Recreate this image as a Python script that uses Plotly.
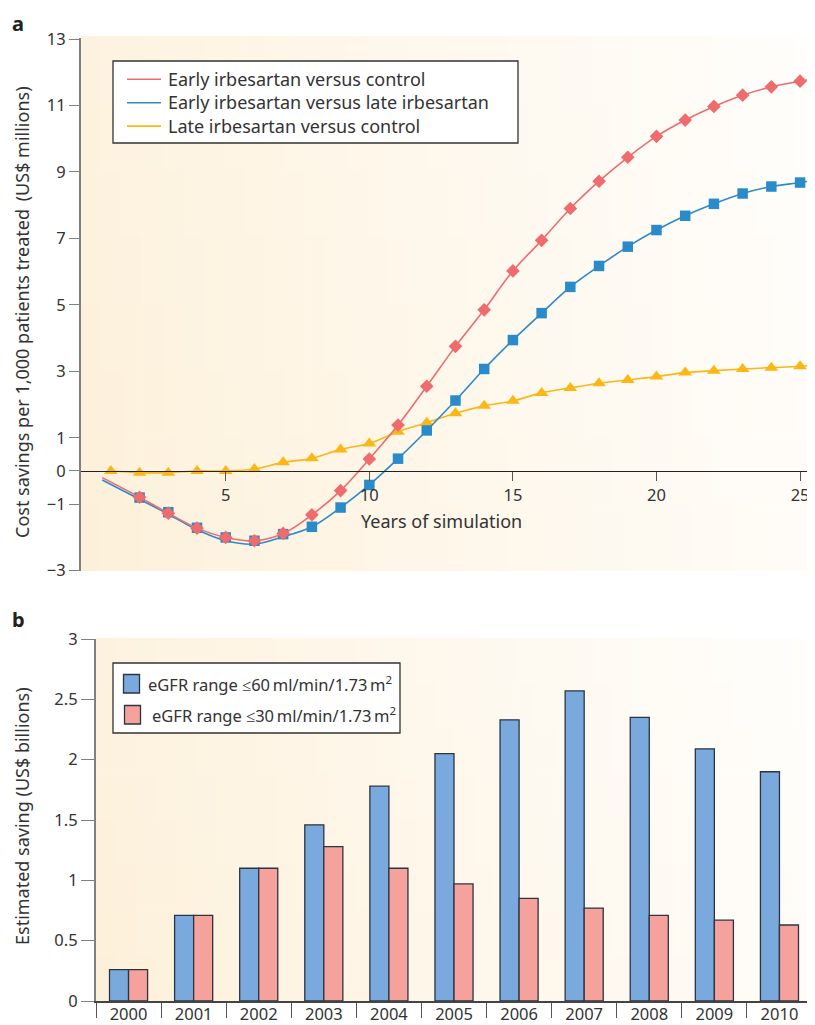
import plotly.graph_objects as go

# page body has an 8 px margin: figure is placed at (8, 8) in the 815x1025 window
OX, OY = 8, 8
FW, FH = 807, 1017
FONT = "Noto Sans"
TXT = "#333333"

# ---------------- Panel a data ----------------
marker_years_a = list(range(2, 26))
marker_years_c = list(range(1, 26))
early_vs_control = [-0.79, -1.27, -1.72, -2.0, -2.1, -1.88, -1.32, -0.59, 0.36, 1.38,
                    2.55, 3.75, 4.85, 6.02, 6.94, 7.9, 8.72, 9.44, 10.07, 10.56,
                    10.97, 11.31, 11.56, 11.73]
early_vs_late = [-0.8, -1.24, -1.71, -2.0, -2.1, -1.9, -1.68, -1.1, -0.42, 0.37,
                 1.22, 2.12, 3.07, 3.94, 4.75, 5.54, 6.17, 6.75, 7.25, 7.68,
                 8.04, 8.35, 8.56, 8.68]
late_vs_control = [0.0, -0.05, -0.05, 0.0, 0.0, 0.06, 0.26, 0.38, 0.65, 0.83,
                   1.18, 1.45, 1.74, 1.96, 2.11, 2.35, 2.5, 2.64, 2.74, 2.84,
                   2.96, 3.02, 3.07, 3.11, 3.15]

# smooth curves drawn behind the markers
curve_red_x = [0.7] + marker_years_a + [25.5]
curve_red_y = [-0.2] + early_vs_control + [11.8]
curve_blue_x = [0.7] + marker_years_a + [25.5]
curve_blue_y = [-0.27, -0.85, -1.3, -1.77, -2.1, -2.2, -1.98, -1.68, -1.1, -0.42, 0.37,
                1.22, 2.12, 3.07, 3.94, 4.75, 5.54, 6.17, 6.75, 7.25, 7.68,
                8.04, 8.35, 8.56, 8.68, 8.75]
curve_yel_x = marker_years_c + [25.5]
curve_yel_y = late_vs_control + [3.19]

series_names_a = ["Early irbesartan versus control",
                  "Early irbesartan versus late irbesartan",
                  "Late irbesartan versus control"]
ytick_vals_a = [13, 11, 9, 7, 5, 3, 1, 0, -1, -3]
ytick_text_a = ["13", "11", "9", "7", "5", "3", "1", "0", "\u22121", "\u22123"]
xtick_vals_a = [5, 10, 15, 20, 25]

# ---------------- Panel b data ----------------
years_b = ["2000", "2001", "2002", "2003", "2004", "2005", "2006", "2007", "2008", "2009", "2010"]
egfr60 = [0.26, 0.71, 1.1, 1.46, 1.78, 2.05, 2.33, 2.57, 2.35, 2.09, 1.9]
egfr30 = [0.26, 0.71, 1.1, 1.28, 1.1, 0.97, 0.85, 0.77, 0.71, 0.67, 0.63]
series_names_b = ["eGFR range \u226460\u2009ml/min/1.73\u2009m<sup>2</sup>",
                  "eGFR range \u226430\u2009ml/min/1.73\u2009m<sup>2</sup>"]
ytick_vals_b = [0, 0.5, 1, 1.5, 2, 2.5, 3]
ytick_text_b = ["0", "0.5", "1", "1.5", "2", "2.5", "3"]

RED = "#ee6b6e"
BLUE = "#2a8bcb"
YEL = "#fbb715"
BAR_BLUE = "#7aaadd"
BAR_RED = "#f5a29c"
EDGE = "#2d3440"


def px(x):
    return (x - OX) / FW


def py(y):
    return 1 - (y - OY) / FH


fig = go.Figure()

# panel a traces
fig.add_trace(go.Scatter(x=curve_yel_x, y=curve_yel_y, mode="lines", line=dict(color=YEL, width=1.6, shape="spline"),
                         xaxis="x", yaxis="y", showlegend=False, hoverinfo="skip"))
fig.add_trace(go.Scatter(x=marker_years_c, y=late_vs_control, mode="markers", name=series_names_a[2],
                         marker=dict(symbol="triangle-up", size=12, color=YEL), xaxis="x", yaxis="y", showlegend=False))
fig.add_trace(go.Scatter(x=curve_blue_x, y=curve_blue_y, mode="lines", line=dict(color=BLUE, width=1.6, shape="spline"),
                         xaxis="x", yaxis="y", showlegend=False, hoverinfo="skip"))
fig.add_trace(go.Scatter(x=marker_years_a, y=early_vs_late, mode="markers", name=series_names_a[1],
                         marker=dict(symbol="square", size=10.5, color=BLUE), xaxis="x", yaxis="y", showlegend=False))
fig.add_trace(go.Scatter(x=curve_red_x, y=curve_red_y, mode="lines", line=dict(color=RED, width=1.6, shape="spline"),
                         xaxis="x", yaxis="y", showlegend=False, hoverinfo="skip"))
fig.add_trace(go.Scatter(x=marker_years_a, y=early_vs_control, mode="markers", name=series_names_a[0],
                         marker=dict(symbol="diamond", size=10.5, color=RED), xaxis="x", yaxis="y", showlegend=False))

# panel b traces
fig.add_trace(go.Bar(x=years_b, y=egfr60, name=series_names_b[0], marker=dict(color=BAR_BLUE, line=dict(color=EDGE, width=1.3)),
                     xaxis="x2", yaxis="y2", showlegend=False))
fig.add_trace(go.Bar(x=years_b, y=egfr30, name=series_names_b[1], marker=dict(color=BAR_RED, line=dict(color=EDGE, width=1.3)),
                     xaxis="x2", yaxis="y2", showlegend=False))

shapes = []


def gradient(x0, y0, x1, y1, ncol=36, nrow=8):
    c0 = (253, 240, 217)
    c1 = (255, 254, 252)
    for i in range(ncol):
        for j in range(nrow):
            fx = (i + 0.5) / ncol
            fy = (j + 0.5) / nrow  # 0 top, 1 bottom
            t = 0.86 * fx + 0.14 * (1 - fy)
            t = min(1.0, max(0.0, t)) ** 0.9
            col = tuple(int(round(c0[k] + (c1[k] - c0[k]) * t)) for k in range(3))
            xa = x0 + (x1 - x0) * i / ncol
            xb = x0 + (x1 - x0) * (i + 1) / ncol
            ya = y0 + (y1 - y0) * j / nrow
            yb = y0 + (y1 - y0) * (j + 1) / nrow
            shapes.append(dict(type="rect", xref="paper", yref="paper", layer="below",
                               x0=px(xa), x1=px(min(xb + 0.6, x1)), y0=py(ya), y1=py(min(yb + 0.6, y1)),
                               line=dict(width=0), fillcolor="rgb(%d,%d,%d)" % col))


gradient(81, 36, 815, 571)
gradient(96, 638, 813, 1001)

# legend a (manual): one three-line text block, line spacing 1.3 x 18 px
LEG_A_CY = 102.7
LEG_A_DY = 1.3 * 18
shapes.append(dict(type="rect", xref="paper", yref="paper", x0=px(113), x1=px(518), y0=py(61), y1=py(143),
                   line=dict(color="#333333", width=1.3), fillcolor="white", layer="above"))
for k, c in enumerate([RED, BLUE, YEL]):
    yy = LEG_A_CY + (k - 1) * LEG_A_DY
    shapes.append(dict(type="line", xref="paper", yref="paper", x0=px(127), x1=px(161), y0=py(yy), y1=py(yy),
                       line=dict(color=c, width=1.6), layer="above"))

# legend b (manual)
shapes.append(dict(type="rect", xref="paper", yref="paper", x0=px(113), x1=px(400), y0=py(663), y1=py(733),
                   line=dict(color="#333333", width=1.3), fillcolor="white", layer="above"))
shapes.append(dict(type="rect", xref="paper", yref="paper", x0=px(123.5), x1=px(139.5), y0=py(674.5), y1=py(693),
                   line=dict(color=EDGE, width=1.3), fillcolor=BAR_BLUE, layer="above"))
shapes.append(dict(type="rect", xref="paper", yref="paper", x0=px(124.5), x1=px(140.5), y0=py(705.5), y1=py(724),
                   line=dict(color=EDGE, width=1.3), fillcolor=BAR_RED, layer="above"))

ann = []
ann.append(dict(text="<b>a</b>", x=px(10), y=py(8.5), xref="paper", yref="paper", xanchor="left", yanchor="top",
                showarrow=False, font=dict(size=20, color="#222", family=FONT)))
ann.append(dict(text="<b>b</b>", x=px(10), y=py(619), xref="paper", yref="paper", xanchor="left", yanchor="middle",
                showarrow=False, font=dict(size=20, color="#222", family=FONT)))
ann.append(dict(text="Cost savings per 1,000 patients treated \u2009(US$ millions)", x=px(22), y=py(312),
                xref="paper", yref="paper", textangle=-90, xanchor="center", yanchor="middle",
                showarrow=False, font=dict(size=18, color=TXT, family=FONT)))
ann.append(dict(text="Years of simulation", x=px(441), y=py(521), xref="paper", yref="paper",
                xanchor="center", yanchor="middle", showarrow=False, font=dict(size=18, color=TXT, family=FONT)))
ann.append(dict(text="Estimated saving (US$ billions)", x=px(22), y=py(816),
                xref="paper", yref="paper", textangle=-90, xanchor="center", yanchor="middle",
                showarrow=False, font=dict(size=18, color=TXT, family=FONT)))
ann.append(dict(text="<br>".join(series_names_a), x=px(166), y=py(LEG_A_CY), xref="paper", yref="paper",
                xanchor="left", yanchor="middle", align="left",
                showarrow=False, font=dict(size=18, color=TXT, family=FONT)))
for (xx, yy), name in zip([(146, 684), (150, 714.5)], series_names_b):
    ann.append(dict(text=name, x=px(xx), y=py(yy), xref="paper", yref="paper", xanchor="left", yanchor="middle",
                    showarrow=False, font=dict(size=16.5, color=TXT, family=FONT)))

fig.update_layout(
    width=FW, height=FH,
    margin=dict(l=0, r=0, t=0, b=0, autoexpand=False),
    paper_bgcolor="white", plot_bgcolor="rgba(0,0,0,0)",
    font=dict(family=FONT, size=16, color=TXT),
    barmode="group", bargap=0.415, bargroupgap=0,
    shapes=shapes, annotations=ann,
    xaxis=dict(domain=[px(81), 1.0], range=[-0.04, 25.52], anchor="free", position=py(471), automargin=False,
               showline=True, linecolor="#222222", linewidth=1.4, ticks="outside", ticklen=9,
               tickcolor="#555555", tickwidth=1.3, tickvals=xtick_vals_a, showgrid=False, zeroline=False,
               tickfont=dict(size=16.5, color=TXT)),
    yaxis=dict(domain=[py(571), py(38)], range=[-3.01, 13.03], anchor="x", automargin=False,
               showline=True, linecolor="#808080", linewidth=2.2, ticks="outside", ticklen=10,
               tickcolor="#808080", tickwidth=1.3, tickvals=ytick_vals_a, ticktext=ytick_text_a,
               showgrid=False, zeroline=False, tickfont=dict(size=16.5, color=TXT)),
    xaxis2=dict(domain=[px(96), px(812)], range=[-0.5, 10.5], type="category", anchor="y2", automargin=False,
                showline=True, linecolor="#444444", linewidth=1.5, ticks="outside", ticklen=15,
                tickson="boundaries", tickcolor="#555555", tickwidth=1.3, ticklabelstandoff=-3,
                showgrid=False, zeroline=False, tickfont=dict(size=16.5, color=TXT)),
    yaxis2=dict(domain=[py(1001), py(639)], range=[0, 3], anchor="x2", automargin=False,
                showline=True, linecolor="#808080", linewidth=2.2, ticks="outside", ticklen=13,
                tickcolor="#808080", tickwidth=1.3, tickvals=ytick_vals_b, ticktext=ytick_text_b,
                showgrid=False, zeroline=False, tickfont=dict(size=16.5, color=TXT)),
)

fig.write_html("out.html")
